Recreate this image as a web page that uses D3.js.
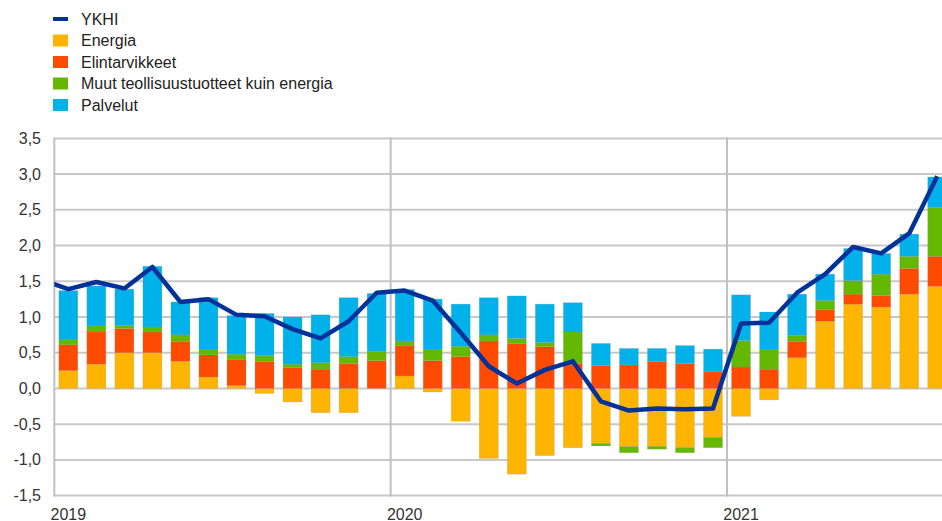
<!DOCTYPE html>
<html>
<head>
<meta charset="utf-8">
<script src="https://cdn.jsdelivr.net/npm/d3@7"></script>
<style>
  html, body { margin: 0; padding: 0; background: #fff; }
  svg { display: block; font-family: Arial, "Liberation Sans", sans-serif; }
</style>
</head>
<body>
<svg id="chart" width="942" height="521"></svg>
<script>
// Months shown on the category axis (Jan 2019 – Aug 2021)
const months = [
  "2019-01","2019-02","2019-03","2019-04","2019-05","2019-06",
  "2019-07","2019-08","2019-09","2019-10","2019-11","2019-12",
  "2020-01","2020-02","2020-03","2020-04","2020-05","2020-06",
  "2020-07","2020-08","2020-09","2020-10","2020-11","2020-12",
  "2021-01","2021-02","2021-03","2021-04","2021-05","2021-06",
  "2021-07","2021-08"
];

// Contributions to HICP inflation, percentage points
const energia = [0.25,0.34,0.50,0.50,0.38,0.16,0.04,-0.07,-0.19,-0.34,-0.34,0.00,
                 0.175,-0.05,-0.46,-0.98,-1.20,-0.94,-0.83,-0.77,-0.815,-0.81,-0.83,-0.685,
                 -0.39,-0.16,0.43,0.94,1.18,1.14,1.32,1.43];
const elintarvikkeet = [0.36,0.45,0.34,0.29,0.28,0.31,0.36,0.38,0.29,0.27,0.35,0.39,
                        0.42,0.39,0.445,0.665,0.63,0.585,0.35,0.32,0.33,0.38,0.35,0.24,
                        0.30,0.27,0.23,0.16,0.14,0.16,0.36,0.42];
const muut = [0.07,0.085,0.04,0.07,0.09,0.07,0.08,0.08,0.05,0.09,0.095,0.125,
              0.07,0.15,0.145,0.085,0.07,0.06,0.44,-0.035,-0.085,-0.04,-0.07,-0.145,
              0.37,0.27,0.085,0.13,0.19,0.30,0.17,0.68];
const palvelut = [0.69,0.56,0.51,0.85,0.46,0.73,0.54,0.59,0.66,0.67,0.825,0.815,
                  0.72,0.71,0.59,0.52,0.595,0.535,0.41,0.31,0.23,0.18,0.25,0.31,
                  0.64,0.53,0.575,0.37,0.45,0.29,0.31,0.43];

// Headline HICP, annual % change; the first value is December 2018
const ykhiStart = 1.53;
const ykhi = [1.39,1.49,1.40,1.70,1.21,1.25,1.03,1.01,0.83,0.70,0.94,1.34,
              1.37,1.23,0.78,0.31,0.07,0.26,0.38,-0.18,-0.31,-0.28,-0.29,-0.28,
              0.91,0.92,1.34,1.60,1.98,1.89,2.17,2.97];

const yearLabels = ["2019","2020","2021"];
const yTicks = [-1.5,-1.0,-0.5,0.0,0.5,1.0,1.5,2.0,2.5,3.0,3.5];

const seriesNames = ["Energia","Elintarvikkeet","Muut teollisuustuotteet kuin energia","Palvelut"];
const seriesKeys = ["energia","elintarvikkeet","muut","palvelut"];
const seriesColors = ["#FFB400","#FF4B00","#65B800","#00B1EA"];
const lineName = "YKHI";
const lineColor = "#003299";

(function draw() {
  const svg = d3.select("#chart");
  const W = 942, H = 521;
  const plotLeft = 54.3, plotTop = 138.4, plotBottom = 495.6;
  const step = 28.03;
  const plotRight = plotLeft + step * (months.length + 1); // axis runs on to Sep 2021
  const fontSize = 16;

  // month index scale: month i spans [i, i+1]
  const x = d3.scaleLinear().domain([0, months.length + 1]).range([plotLeft, plotRight]);
  const y = d3.scaleLinear().domain([-1.5, 3.5]).range([plotBottom, plotTop]);
  const barW = 19;

  const rows = months.map((m, i) => ({
    month: m,
    energia: energia[i], elintarvikkeet: elintarvikkeet[i],
    muut: muut[i], palvelut: palvelut[i]
  }));
  const stacked = d3.stack().keys(seriesKeys).offset(d3.stackOffsetDiverging)(rows);

  // grid
  const grid = svg.append("g");
  grid.selectAll("line.h").data(yTicks).join("line")
    .attr("x1", plotLeft).attr("x2", W)
    .attr("y1", d => y(d)).attr("y2", d => y(d))
    .attr("stroke", "#c8c8c8").attr("stroke-width", 2);
  grid.selectAll("line.v").data([0, 12, 24]).join("line")
    .attr("x1", d => x(d)).attr("x2", d => x(d))
    .attr("y1", y(3.5) - 1).attr("y2", y(-1.5) + 1)
    .attr("stroke", "#c0c0c0").attr("stroke-width", 2);

  // y tick labels
  svg.append("g").selectAll("text").data(yTicks).join("text")
    .attr("x", 41).attr("y", d => y(d)).attr("dy", "0.35em")
    .attr("text-anchor", "end").attr("font-size", fontSize).attr("fill", "#333")
    .text(d => d3.format(".1f")(d).replace(".", ",").replace("−", "-"));

  // year labels centred on January
  svg.append("g").selectAll("text").data(yearLabels).join("text")
    .attr("x", (d, i) => x(i * 12 + 0.5)).attr("y", 519.5)
    .attr("text-anchor", "middle").attr("font-size", fontSize).attr("fill", "#333")
    .text(d => d);

  // stacked bars
  const bars = svg.append("g");
  stacked.forEach((layer, k) => {
    bars.append("g").attr("fill", seriesColors[k])
      .selectAll("rect").data(layer).join("rect")
      .attr("x", (d, i) => x(i + 0.5) - barW / 2)
      .attr("width", barW)
      .attr("y", d => y(Math.max(d[0], d[1])))
      .attr("height", d => Math.abs(y(d[0]) - y(d[1])))
      .attr("stroke", "rgba(150,150,150,0.35)").attr("stroke-width", 0.6);
  });

  // headline line, clipped to the plot area
  svg.append("clipPath").attr("id", "plotClip")
    .append("rect").attr("x", plotLeft).attr("y", 0).attr("width", W - plotLeft).attr("height", H);
  const linePts = [ykhiStart].concat(ykhi).map((v, j) => [j - 1, v]);
  svg.append("path")
    .attr("clip-path", "url(#plotClip)")
    .attr("d", d3.line().x(d => x(d[0] + 0.5)).y(d => y(d[1]))(linePts))
    .attr("fill", "none").attr("stroke", lineColor).attr("stroke-width", 4.5)
    .attr("stroke-linejoin", "round");

  // legend
  const lg = svg.append("g").attr("font-size", fontSize).attr("fill", "#222");
  const rowH = 21.5, ly0 = 19;
  lg.append("rect").attr("x", 53).attr("y", ly0 - 2).attr("width", 15).attr("height", 4).attr("fill", lineColor);
  lg.append("text").attr("x", 81).attr("y", ly0).attr("dy", "0.35em").text(lineName);
  seriesNames.forEach((n, k) => {
    const cy = ly0 + rowH * (k + 1);
    lg.append("rect").attr("x", 53).attr("y", cy - 6).attr("width", 15).attr("height", 12).attr("fill", seriesColors[k]);
    lg.append("text").attr("x", 81).attr("y", cy).attr("dy", "0.35em").text(n);
  });
})();
</script>
</body>
</html>
